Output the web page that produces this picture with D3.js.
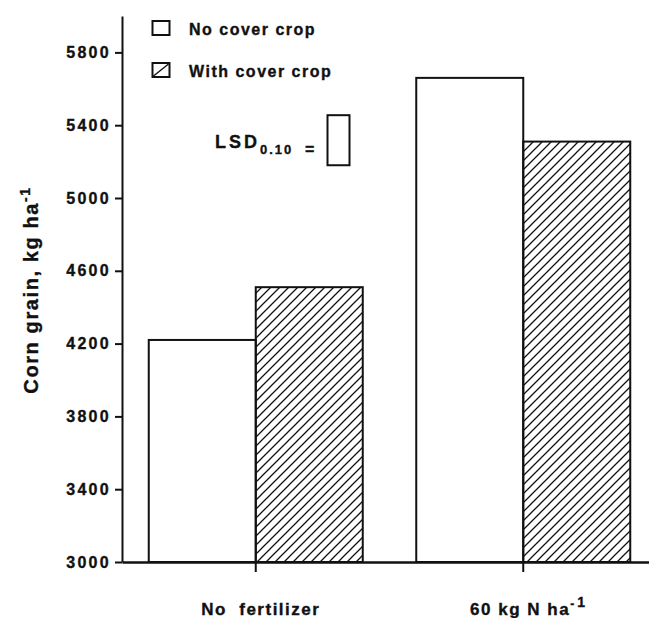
<!DOCTYPE html>
<html>
<head>
<meta charset="utf-8">
<script src="https://cdn.jsdelivr.net/npm/d3@7"></script>
<style>
  html, body { margin: 0; padding: 0; background: #fff; }
  svg { display: block; }
  text { font-family: "Liberation Sans", Arial, Helvetica, sans-serif; font-weight: bold; fill: #111; stroke: #111; stroke-width: 0.35px; }
</style>
</head>
<body>
<svg id="chart" width="649" height="618"></svg>
<script>
// ---- data ----
const categories = ["No fertilizer", "60 kg N ha"];
const series = ["No cover crop", "With cover crop"];
const noCover = [4220, 5660];
const withCover = [4510, 5310];
const yTicks = [3000, 3400, 3800, 4200, 4600, 5000, 5400, 5800];
const lsdValue = 275;
const lsdTopValue = 5455;

const svg = d3.select("#chart");
const ink = "#111";

const y = d3.scaleLinear().domain([3000, 6000]).range([562, 16]);
const x = d3.scaleBand().domain(categories).range([122, 657]).paddingInner(0.2).paddingOuter(0.1);
const xs = d3.scaleBand().domain(series).range([0, x.bandwidth()]);

// hatch pattern
const defs = svg.append("defs");
const pat = defs.append("pattern").attr("id", "hatch").attr("patternUnits", "userSpaceOnUse")
  .attr("width", 9).attr("height", 9);
pat.append("path").attr("d", "M0,9 L9,0 M-2,2 L2,-2 M7,11 L11,7")
  .attr("stroke", ink).attr("stroke-width", 1.3).attr("fill", "none");

// bars
const rows = categories.map((c, i) => ({cat: c, vals: [noCover[i], withCover[i]]}));
const g = svg.append("g");
rows.forEach(r => {
  r.vals.forEach((v, j) => {
    g.append("rect")
      .attr("x", x(r.cat) + xs(series[j]))
      .attr("y", y(v))
      .attr("width", xs.bandwidth())
      .attr("height", y(3000) - y(v))
      .attr("fill", j === 0 ? "#fff" : "url(#hatch)")
      .attr("stroke", ink).attr("stroke-width", 2);
  });
});

// y axis
const yAxis = svg.append("g").attr("transform", "translate(122,0)")
  .call(d3.axisLeft(y).tickValues(yTicks).tickSize(7).tickSizeOuter(0).tickPadding(4).tickFormat(d3.format("d")));
yAxis.select(".domain").attr("stroke", ink).attr("stroke-width", 2);
yAxis.selectAll(".tick line").attr("stroke", ink).attr("stroke-width", 2);
yAxis.selectAll(".tick text").attr("font-size", 16).attr("letter-spacing", "2.3px")
  .attr("fill", ink).style("font-family", '"Liberation Sans", Arial, sans-serif').style("font-weight", "bold");

// x axis
const xAxis = svg.append("g").attr("transform", "translate(0,562)")
  .call(d3.axisBottom(x).tickSize(10).tickSizeOuter(0).tickFormat(""));
xAxis.select(".domain").attr("stroke", ink).attr("stroke-width", 2.5);
xAxis.selectAll(".tick line").attr("stroke", ink).attr("stroke-width", 2);

// category labels
const catLabels = svg.append("g");
categories.forEach((c, i) => {
  const t = catLabels.append("text")
    .attr("x", x(c) + x.bandwidth() / 2 + 5)
    .attr("y", 615)
    .attr("text-anchor", "middle")
    .attr("font-size", 17)
    .attr("letter-spacing", "1.5px")
    .style("white-space", "pre");
  if (i === 0) {
    t.text("No  fertilizer");
  } else {
    t.append("tspan").text(c);
    t.append("tspan").attr("font-size", 12).attr("dy", -7).attr("letter-spacing", "3px").text("-");
    t.append("tspan").attr("font-size", 14).attr("dy", -1).text("1");
  }
});

// y label
const yl = svg.append("text")
  .attr("transform", "translate(38,290) rotate(-90)")
  .attr("text-anchor", "middle")
  .attr("font-size", 20)
  .attr("letter-spacing", "1.6px");
yl.append("tspan").text("Corn grain, kg ha");
yl.append("tspan").attr("font-size", 14).attr("dy", -8).text("-1");

// legend
const legend = svg.append("g");
series.forEach((s, i) => {
  const yy = 21 + i * 42;
  legend.append("rect").attr("x", 152.5).attr("y", yy).attr("width", 17).attr("height", 14)
    .attr("fill", "#fff").attr("stroke", ink).attr("stroke-width", 2);
  if (i === 1) {
    legend.append("line").attr("x1", 153.5).attr("y1", yy + 13).attr("x2", 168.5).attr("y2", yy + 1)
      .attr("stroke", ink).attr("stroke-width", 1.5);
  }
  legend.append("text").attr("x", 189).attr("y", yy + 13.5)
    .attr("font-size", 16).attr("letter-spacing", "1.5px").text(s);
});

// LSD
const lsdG = svg.append("g");
const lsdText = lsdG.append("text").attr("x", 215).attr("y", 147.5).attr("font-size", 18).attr("letter-spacing", "3px");
lsdText.append("tspan").text("LSD");
lsdText.append("tspan").attr("font-size", 13).attr("dy", 6).attr("letter-spacing", "2px").text("0.10");
lsdG.append("text").attr("x", 305).attr("y", 155).attr("font-size", 16).text("=");
lsdG.append("rect").attr("x", 327.5).attr("y", y(lsdTopValue))
  .attr("width", 22).attr("height", y(lsdTopValue - lsdValue) - y(lsdTopValue))
  .attr("fill", "#fff").attr("stroke", ink).attr("stroke-width", 2);
</script>
</body>
</html>
